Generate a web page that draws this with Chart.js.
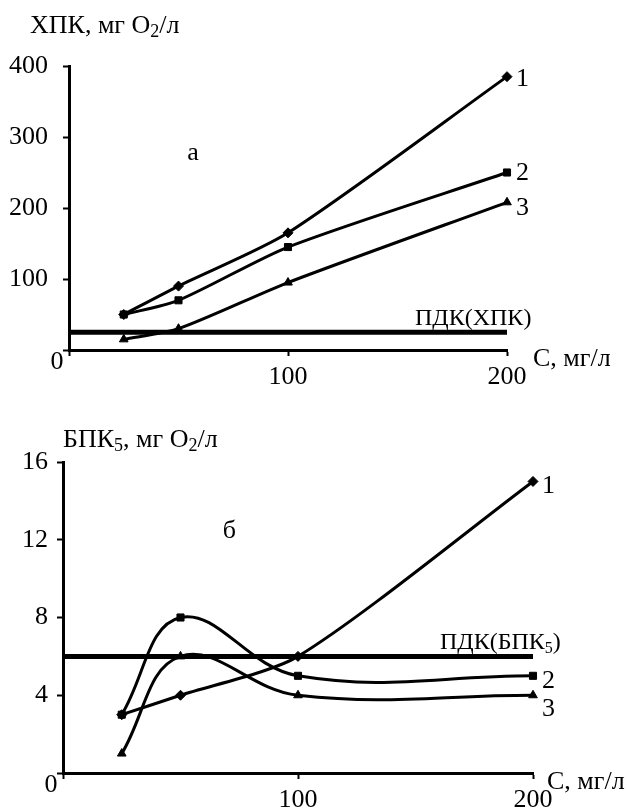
<!DOCTYPE html>
<html>
<head>
<meta charset="utf-8">
<script src="https://cdn.jsdelivr.net/npm/chart.js@4.4.1/dist/chart.umd.min.js"></script>
<style>
  body { margin: 0; background: #fff; }
  canvas { position: absolute; left: 0; }
</style>
</head>
<body>
<canvas id="chA" width="627" height="400" style="top:0"></canvas>
<canvas id="chB" width="627" height="411" style="top:400px"></canvas>
<script>
// concentration, mg/l
var conc = [25, 50, 100, 200];
var xTicks = [0, 100, 200];

// chart a - ХПК, mg O2/l
var xpk1 = [50, 90, 165, 385];
var xpk2 = [50, 70, 145, 250];
var xpk3 = [15, 30, 95, 208];
var pdkXpk = 25;
var xpkTicks = [0, 100, 200, 300, 400];

// chart b - БПК5, mg O2/l
var bpk1 = [3, 4, 6, 15];
var bpk2 = [3, 8, 5, 5];
var bpk3 = [1, 6, 4, 4];
var pdkBpk = 6;
var bpkTicks = [0, 4, 8, 12, 16];

var curveNames = ['1', '2', '3'];
var markers = ['rectRot', 'rect', 'triangle'];

var FONT = '"Liberation Serif", "Times New Roman", serif';
Chart.defaults.font.family = FONT;
Chart.defaults.color = '#000';

function pts(vals) {
    return conc.map(function (c, i) { return { x: c, y: vals[i] }; });
}

// text with subscripts: parts = [[text, isSub], ...]
function richText(ctx, parts, x, y, size) {
    ctx.textAlign = 'left';
    ctx.textBaseline = 'alphabetic';
    parts.forEach(function (p) {
        var fs = p[1] ? Math.round(size * 0.68) : size;
        ctx.font = fs + 'px ' + FONT;
        ctx.fillText(p[0], x, y + (p[1] ? size * 0.17 : 0));
        x += ctx.measureText(p[0]).width;
    });
}

function makeChart(id, series, pdk, yTicks, cfg) {
    var datasets = series.map(function (vals, i) {
        return {
            data: pts(vals),
            borderColor: '#000',
            backgroundColor: '#000',
            borderWidth: 3,
            pointStyle: markers[i],
            pointRadius: 5,
            pointBorderWidth: 1,
            tension: cfg.tension[i],
            clip: false
        };
    });
    // ПДК level
    datasets.push({
        data: [{ x: xTicks[0], y: pdk }, { x: xTicks[xTicks.length - 1], y: pdk }],
        borderColor: '#000',
        borderWidth: 5,
        pointRadius: 0,
        tension: 0,
        clip: false
    });

    var labels = {
        id: 'labels' + id,
        afterDraw: function (chart) {
            var ctx = chart.ctx, xs = chart.scales.x, ys = chart.scales.y;
            ctx.save();
            ctx.fillStyle = '#000';
            // y axis title
            richText(ctx, cfg.yTitle, cfg.yTitlePos[0], cfg.yTitlePos[1], 26);
            // x axis title
            richText(ctx, [['С, мг/л', false]], xs.right + cfg.xTitleDx, xs.top + cfg.xTitleDy, 26);
            // origin zero
            ctx.font = '26px ' + FONT;
            ctx.textAlign = 'center';
            ctx.fillText('0', xs.left - 12, xs.top + 19);
            // panel letter
            ctx.textAlign = 'left';
            ctx.fillText(cfg.letter, xs.getPixelForValue(cfg.letterPos[0]), ys.getPixelForValue(cfg.letterPos[1]));
            // curve numbers
            series.forEach(function (vals, i) {
                var n = vals.length - 1;
                ctx.fillText(curveNames[i], xs.getPixelForValue(conc[n]) + 9,
                    ys.getPixelForValue(vals[n]) + cfg.numDy[i]);
            });
            // ПДК caption
            richText(ctx, cfg.pdkText, xs.right + cfg.pdkDx, ys.getPixelForValue(pdk) - 7, 24);
            ctx.restore();
        }
    };

    return new Chart(document.getElementById(id), {
        type: 'line',
        data: { datasets: datasets },
        options: {
            responsive: false,
            animation: false,
            events: [],
            layout: { padding: { top: cfg.top, right: cfg.right, left: 0, bottom: 0 } },
            plugins: { legend: { display: false }, tooltip: { enabled: false } },
            scales: {
                x: {
                    type: 'linear',
                    min: xTicks[0],
                    max: xTicks[xTicks.length - 1],
                    afterFit: function (s) { s.height = cfg.xHeight; },
                    afterBuildTicks: function (s) { s.ticks = xTicks.map(function (v) { return { value: v }; }); },
                    ticks: {
                        font: { size: 26 },
                        padding: 6,
                        maxRotation: 0,
                        callback: function (v) { return v === 0 ? '' : v; }
                    },
                    grid: { drawOnChartArea: false, color: '#000', tickLength: 6, tickWidth: 2 },
                    border: { color: '#000', width: 3 }
                },
                y: {
                    min: yTicks[0],
                    max: yTicks[yTicks.length - 1],
                    afterFit: function (s) { s.width = cfg.yWidth; },
                    afterBuildTicks: function (s) { s.ticks = yTicks.map(function (v) { return { value: v }; }); },
                    ticks: {
                        font: { size: 26 },
                        padding: cfg.yPad,
                        callback: function (v) { return v === 0 ? '' : v; }
                    },
                    grid: { drawOnChartArea: false, color: '#000', tickLength: 6, tickWidth: 2 },
                    border: { color: '#000', width: 3 }
                }
            }
        },
        plugins: [labels]
    });
}

makeChart('chA', [xpk1, xpk2, xpk3], pdkXpk, xpkTicks, {
    tension: [0.25, 0.25, 0.25],
    top: 66, right: 120, yWidth: 69, xHeight: 50, yPad: 15,
    yTitle: [['ХПК, мг O', false], ['2', true], ['/л', false]],
    yTitlePos: [30, 33],
    xTitleDx: 26, xTitleDy: 16,
    letter: 'а', letterPos: [54, 268],
    numDy: [9, 7, 13],
    pdkText: [['ПДК(ХПК)', false]], pdkDx: -92
});

makeChart('chB', [bpk1, bpk2, bpk3], pdkBpk, bpkTicks, {
    tension: [0.25, 0.4, 0.4],
    top: 62, right: 94, yWidth: 63, xHeight: 38, yPad: 9,
    yTitle: [['БПК', false], ['5', true], [', мг O', false], ['2', true], ['/л', false]],
    yTitlePos: [63, 47],
    xTitleDx: 14, xTitleDy: 16,
    letter: 'б', letterPos: [68, 12.1],
    numDy: [12, 12, 21],
    pdkText: [['ПДК(БПК', false], ['5', true], [')', false]], pdkDx: -93
});
</script>
</body>
</html>
